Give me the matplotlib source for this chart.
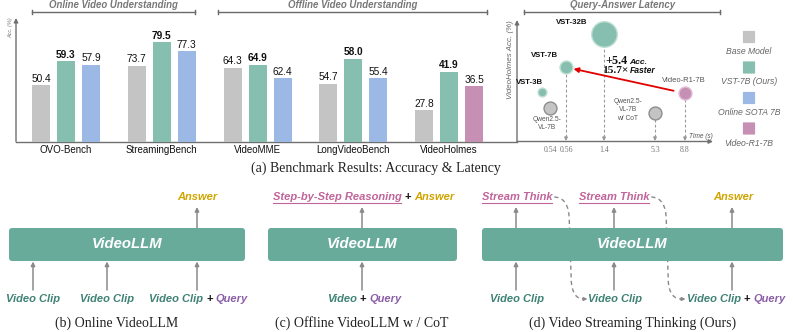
import numpy as np
import matplotlib
matplotlib.use("Agg")
import matplotlib.pyplot as plt
from matplotlib.patches import FancyBboxPatch, PathPatch
from matplotlib.path import Path

plt.rcParams['font.family'] = ['Liberation Sans', 'DejaVu Sans']

# ---------------- data ----------------
benchmarks = ["OVO-Bench", "StreamingBench", "VideoMME", "LongVideoBench", "VideoHolmes"]
base_acc = [50.4, 73.7, 64.3, 54.7, 27.8]
vst_acc = [59.3, 79.5, 64.9, 58.0, 41.9]
third_acc = [57.9, 77.3, 62.4, 55.4, 36.5]
third_kind = ["sota", "sota", "sota", "sota", "r1"]

models = ["VST-3B", "Qwen2.5-\nVL-7B", "VST-7B", "VST-32B", "Qwen2.5-\nVL-7B\nw/ CoT", "Video-R1-7B"]
latency = [0.53, 0.54, 0.56, 1.4, 5.3, 8.8]
holmes_acc = [36.7, 33.4, 41.9, 48.8, 32.5, 36.5]
params_b = [3, 7, 7, 32, 7, 7]
model_kind = ["vst", "base", "vst", "vst", "base", "r1"]
tick_times = [0.54, 0.56, 1.4, 5.3, 8.8]
tick_labels = ["0.54", "0.56", "1.4", "5.3", "8.8"]

legend_labels = ["Base Model", "VST-7B (Ours)", "Online SOTA 7B", "Video-R1-7B"]

# ---------------- styles ----------------
C = {"base": "#c4c4c4", "vst": "#86bfb0", "sota": "#9cb9e5", "r1": "#c68fb4"}
EDGE = {"base": "#8e8e8e", "vst": "#bfe0d2", "r1": "#e2bcd5"}
AX = "#707070"
W, H = 793, 332
fig = plt.figure(figsize=(W / 100, H / 100), dpi=100)
PT = 0.72  # points per pixel


def px_axes(x0, y0, x1, y1):
    a = fig.add_axes([x0 / W, 1 - y1 / H, (x1 - x0) / W, (y1 - y0) / H])
    a.set_facecolor('none')
    return a


ov = px_axes(0, 0, W, H)
ov.set_xlim(0, W)
ov.set_ylim(H, 0)
ov.axis('off')
R = fig.canvas.get_renderer()

# ---------------- bar groups ----------------
group_ylim = [(29.7, 75.3), (55.2, 85.5), (50.7, 73.6), (47.0, 63.4), (16.5, 61.4)]
first, pitch = 66, 95.75
for i, name in enumerate(benchmarks):
    cx = first + i * pitch
    ax = px_axes(cx - 45, 18, cx + 45, 141.5)
    vals = [base_acc[i], vst_acc[i], third_acc[i]]
    cols = [C["base"], C["vst"], C[third_kind[i]]]
    pos = np.arange(3) - 1
    bars = ax.bar(pos, vals, width=0.72, color=cols, zorder=2)
    ax.set_xlim(-1.8, 1.8)
    ax.set_ylim(*group_ylim[i])
    for sp in ax.spines.values():
        sp.set_visible(False)
    ax.set_yticks([])
    ax.set_xticks([0])
    ax.set_xticklabels([name], fontsize=7, color='#111')
    ax.tick_params(axis='x', length=0, pad=2.2)
    for j, (b, v) in enumerate(zip(bars, vals)):
        ax.annotate(f"{v:.1f}", (b.get_x() + b.get_width() / 2, v), xytext=(0, 1.2),
                    textcoords='offset points', ha='center', va='bottom', fontsize=7.3,
                    fontweight='bold' if j == 1 else 'normal', color='#111', annotation_clip=False)

# ---------------- scatter ----------------
t_anchor = [0.0, 0.54, 0.56, 1.4, 5.3, 8.8, 20.0]
p_anchor = [-399.0, 33.0, 49.0, 87.0, 138.0, 168.0, 264.0]


def fwd(t):
    return np.interp(t, t_anchor, p_anchor)


def inv(p):
    return np.interp(p, p_anchor, t_anchor)


axs = px_axes(517, 18, 713, 141.5)
axs.set_xscale('function', functions=(fwd, inv))
axs.set_xlim(float(inv(0)), float(inv(196)))
y0s, y1s = 26.5, 52.1
axs.set_ylim(y0s, y1s)
for sp in axs.spines.values():
    sp.set_visible(False)
axs.set_yticks([])
axs.set_xticks(tick_times)
axs.set_xticklabels(tick_labels, family='Liberation Serif', fontsize=5.6, color='#777')
axs.tick_params(axis='x', length=0, pad=3)

sizes = 15 * np.array(params_b, dtype=float) ** 0.9
for k in range(len(models)):
    kind = model_kind[k]
    axs.scatter([latency[k]], [holmes_acc[k]], s=sizes[k], color=C[kind],
                edgecolors=EDGE[kind], linewidths=1.0, zorder=4, clip_on=False)
    if k >= 2:
        axs.plot([latency[k], latency[k]], [y0s + 0.9, holmes_acc[k]], ls=(0, (2.5, 2)),
                 color='#999', lw=0.8, zorder=1)
        axs.annotate('', xy=(latency[k], y0s + 0.1), xytext=(latency[k], y0s + 1.0),
                     arrowprops=dict(arrowstyle='-|>', color='#999', lw=0.8,
                                     mutation_scale=5, shrinkA=0, shrinkB=0))

label_off = [(-12, -10), (-3, 15.5), (-21, -12), (-32, -11), (-27, -3), (-1, -13)]
label_bold = [True, False, True, True, False, False]
label_size = [5.6, 4.8, 5.6, 5.6, 4.8, 5.5]
for k in range(len(models)):
    dx, dy = label_off[k]
    axs.annotate(models[k], (latency[k], holmes_acc[k]), xytext=(dx * PT, -dy * PT),
                 textcoords='offset points', ha='center', va='center', fontsize=label_size[k],
                 fontweight='bold' if label_bold[k] else 'normal',
                 color='#111' if label_bold[k] else '#555', linespacing=1.3,
                 multialignment='center', annotation_clip=False)

axs.annotate('', xy=(latency[2], holmes_acc[2]), xytext=(latency[5], holmes_acc[5]),
             arrowprops=dict(arrowstyle='-|>', color='#e00000', lw=1.3, mutation_scale=7,
                             shrinkA=8.4, shrinkB=5.5), zorder=5)

# ---------------- overlay: axes, headers, legend ----------------
arr = dict(arrowstyle='-|>', color=AX, lw=1.0, mutation_scale=6, shrinkA=0, shrinkB=0)
ov.annotate('', xy=(16, 18), xytext=(16, 141.5), arrowprops=arr)
ov.plot([16, 517], [141.5, 141.5], color=AX, lw=1.0)
ov.annotate('', xy=(517, 20), xytext=(517, 141.5), arrowprops=arr)
ov.annotate('', xy=(713, 141.5), xytext=(517, 141.5), arrowprops=arr)

for x0, x1, xc, lab in [(32, 195, 113, "Online Video Understanding"),
                        (218, 487, 353, "Offline Video Understanding"),
                        (524, 720, 623, "Query-Answer Latency")]:
    ov.plot([x0, x1], [12.3, 12.3], color='#6a6a6a', lw=1.0)
    ov.plot([x0, x0], [10.3, 14.3], color='#6a6a6a', lw=1.0)
    ov.plot([x1, x1], [10.3, 14.3], color='#6a6a6a', lw=1.0)
    ov.text(xc, 5.3, lab, ha='center', va='center', fontsize=6.9, fontweight='bold',
            style='italic', color='#777')

ov.text(11, 28, "Acc. (%)", rotation=90, ha='center', va='center', fontsize=4,
        style='italic', color='#777')
ov.text(510, 60, "VideoHolmes Acc. (%)", rotation=90, ha='center', va='center',
        fontsize=5.7, style='italic', color='#666')
ov.text(701, 136, "Time (s)", ha='center', va='center', fontsize=4.7, style='italic', color='#555')

# +5.4 Acc. / 15.7x Faster
ov.text(628, 61.5, "+5.4", ha='right', va='center', family='Liberation Serif',
        fontsize=8.8, fontweight='bold', color='#111')
ov.text(629.5, 62.5, "Acc.", ha='left', va='center', fontsize=6.1, fontweight='bold',
        style='italic', color='#111')
ov.text(628, 70.5, "15.7\u00d7", ha='right', va='center', family='Liberation Serif',
        fontsize=8.2, fontweight='bold', color='#111')
ov.text(630, 70.5, "Faster", ha='left', va='center', fontsize=6.2, fontweight='bold',
        style='italic', color='#111')

# legend
leg_keys = ["base", "vst", "sota", "r1"]
for n, (key, lab) in enumerate(zip(leg_keys, legend_labels)):
    yc = 37 + n * 30.5
    ov.add_patch(FancyBboxPatch((749 - 5.5, yc - 5.5), 11, 11, boxstyle='round,pad=0.6',
                                fc=C[key], ec='none'))
    ov.text(749, yc + 14.5, lab, ha='center', va='center', fontsize=6.2, style='italic',
            color='#666')

ov.text(376, 168, "(a) Benchmark Results: Accuracy & Latency", ha='center', va='center',
        family='Liberation Serif', fontsize=10, color='#222')

# ---------------- bottom panels ----------------
BOX = '#68ab9b'
CLIP = '#3f8275'
QUERY = '#8b5fa6'
ANS = '#cfa500'
THINK = '#c0649a'
GRAY = '#8a8a8a'
TXT = dict(fontsize=8, fontweight='bold', style='italic')


def box(x0, x1):
    ov.add_patch(FancyBboxPatch((x0 + 3, 231), x1 - x0 - 6, 27, boxstyle='round,pad=3',
                                fc=BOX, ec='none', zorder=3))
    ov.text((x0 + x1) / 2, 243.5, 'VideoLLM', ha='center', va='center', fontsize=10.7,
            fontweight='bold', style='italic', color='white', zorder=4)


def up(x, ya, yb):
    ov.annotate('', xy=(x, yb), xytext=(x, ya),
                arrowprops=dict(arrowstyle='-|>', color=GRAY, lw=1.1, mutation_scale=6,
                                shrinkA=0, shrinkB=0), zorder=2)


def line_of(xc, y, items, gap=3.0):
    ts = []
    for s, col, kw in items:
        t = ov.text(0, y, s, ha='left', va='center', color=col, zorder=4, **kw)
        ts.append(t)
    ws = [t.get_window_extent(R).width for t in ts]
    total = sum(ws) + gap * (len(ts) - 1)
    x = xc - total / 2
    spans = []
    for t, w in zip(ts, ws):
        t.set_x(x)
        spans.append((x, x + w))
        x += w + gap
    return spans


PLUS = dict(fontsize=8, fontweight='bold')


def underline(span, y):
    ov.plot([span[0], span[1]], [y, y], color=THINK, lw=0.8, zorder=4)


# (b)
box(9, 245)
for x in [33, 107, 197]:
    up(x, 290, 261.5)
up(197, 228, 207)
line_of(197.5, 197, [("Answer", ANS, TXT)])
line_of(33, 299, [("Video Clip", CLIP, TXT)])
line_of(107.5, 299, [("Video Clip", CLIP, TXT)])
line_of(198.5, 299, [("Video Clip", CLIP, TXT), ("+", '#111', PLUS), ("Query", QUERY, TXT)])
ov.text(117, 323, "(b) Online VideoLLM", ha='center', va='center', family='Liberation Serif',
        fontsize=10, color='#222')

# (c)
box(268, 457)
up(362, 290, 261.5)
up(362, 228, 207)
sp = line_of(363.5, 197, [("Step-by-Step Reasoning", THINK, TXT), ("+", '#111', PLUS),
                          ("Answer", ANS, TXT)])
underline(sp[0], 202.5)
line_of(364, 299, [("Video", CLIP, TXT), ("+", '#111', PLUS), ("Query", QUERY, TXT)])
ov.text(362, 323, "(c) Offline VideoLLM w / CoT", ha='center', va='center',
        family='Liberation Serif', fontsize=10, color='#222')

# (d)
box(482, 783)
for x in [516, 614, 732]:
    up(x, 290, 261.5)
    up(x, 228, 207)
th1 = line_of(517, 197, [("Stream Think", THINK, TXT)])[0]
th2 = line_of(614, 197, [("Stream Think", THINK, TXT)])[0]
underline(th1, 202.5)
underline(th2, 202.5)
line_of(733, 197, [("Answer", ANS, TXT)])
line_of(517, 299, [("Video Clip", CLIP, TXT)])
c2 = line_of(615.5, 299, [("Video Clip", CLIP, TXT)])[0]
c3 = line_of(736, 299, [("Video Clip", CLIP, TXT), ("+", '#111', PLUS), ("Query", QUERY, TXT)])[0]

for th, cl in [(th1, c2), (th2, c3)]:
    sx = th[1] + 2
    ex = cl[0] - 5
    mx = sx + 15
    verts = [(sx, 197), (sx + 10, 197.5), (mx, 205), (mx, 222),
             (mx + 2, 282),
             (mx + 3, 293), (mx + 7, 299), (ex, 299)]
    codes = [Path.MOVETO, Path.CURVE4, Path.CURVE4, Path.CURVE4, Path.LINETO,
             Path.CURVE4, Path.CURVE4, Path.CURVE4]
    ov.add_patch(PathPatch(Path(verts, codes), fc='none', ec=GRAY, lw=1.0,
                           ls=(0, (3, 2.5)), zorder=1))
    ov.annotate('', xy=(ex + 4, 299), xytext=(ex - 1, 299),
                arrowprops=dict(arrowstyle='-|>', color=GRAY, lw=1.0, mutation_scale=5,
                                shrinkA=0, shrinkB=0), zorder=1)

ov.text(633, 323, "(d) Video Streaming Thinking (Ours)", ha='center', va='center',
        family='Liberation Serif', fontsize=10, color='#222')

fig.savefig("out.png", dpi=100)
